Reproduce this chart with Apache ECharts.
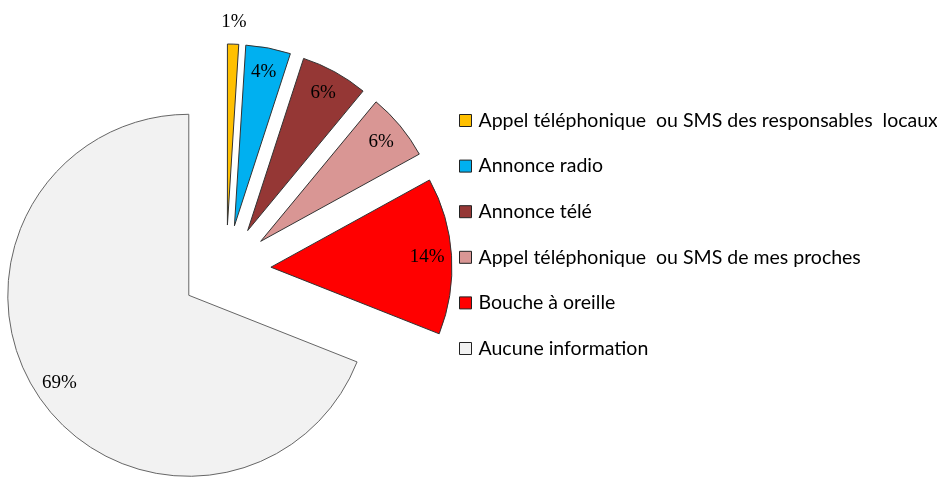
<!DOCTYPE html>
<html>
<head>
<meta charset="utf-8">
<script src="https://cdn.jsdelivr.net/npm/echarts@6/dist/echarts.min.js"></script>
<style>
html,body{margin:0;padding:0;background:#fff;}
#chart{width:937px;height:482px;}
</style>
</head>
<body>
<div id="chart"></div>
<script>
// Data
const categories = [
  "Appel téléphonique  ou SMS des responsables  locaux",
  "Annonce radio",
  "Annonce télé",
  "Appel téléphonique  ou SMS de mes proches",
  "Bouche à oreille",
  "Aucune information"
];
const values = [1, 4, 6, 6, 14, 69];
const colors = ["#FFC000", "#00B0F0", "#953735", "#D99694", "#FF0000", "#F2F2F2"];
const borderColors = ["#333333", "#333333", "#333333", "#333333", "#333333", "#666666"];

const center = [226, 270];
const R = 181;
const offset = 45;
const labelFont = {fontFamily: "Liberation Serif", fontSize: 19, color: "#000"};

function mainData() {
  return categories.map((c, i) => ({
    name: c, value: values[i], selected: true,
    itemStyle: {color: colors[i], borderColor: borderColors[i], borderWidth: 1}
  }));
}
function ghostData(showIdx) {
  return categories.map((c, i) => ({
    name: c, value: values[i], selected: true,
    itemStyle: {color: "rgba(0,0,0,0)", borderWidth: 0},
    label: {show: showIdx(i)}
  }));
}
const fmt = p => p.value + "%";

const chart = echarts.init(document.getElementById("chart"), null, {renderer: "canvas"});
chart.setOption({
  animation: false,
  backgroundColor: "#fff",
  legend: {
    orient: "vertical",
    left: 459,
    top: 110.5,
    padding: 0,
    itemWidth: 12,
    itemHeight: 12,
    itemGap: 25.6,
    icon: "rect",
    data: categories,
    selectedMode: false,
    itemStyle: {borderColor: "#222", borderWidth: 1},
    textStyle: {fontFamily: "Lato", fontSize: 19.5, color: "#000", lineHeight: 20, padding: [0, 0, 0, 2]}
  },
  series: [
    {
      type: "pie",
      center: center,
      radius: [0, R],
      startAngle: 90,
      clockwise: true,
      selectedMode: "multiple",
      selectedOffset: offset,
      silent: true,
      emphasis: {disabled: true},
      label: {show: false},
      labelLine: {show: false},
      data: mainData()
    },
    {
      type: "pie",
      center: center,
      radius: [R - 55, R],
      startAngle: 90,
      clockwise: true,
      selectedMode: "multiple",
      selectedOffset: offset,
      silent: true,
      emphasis: {disabled: true},
      label: Object.assign({show: true, position: "inside", formatter: fmt}, labelFont),
      labelLine: {show: false},
      data: ghostData(i => i !== 0)
    },
    {
      type: "pie",
      center: center,
      radius: [R + 6, R + 32],
      startAngle: 90,
      clockwise: true,
      selectedMode: "multiple",
      selectedOffset: offset,
      silent: true,
      emphasis: {disabled: true},
      label: Object.assign({show: true, position: "inside", formatter: fmt}, labelFont),
      labelLine: {show: false},
      data: ghostData(i => i === 0)
    }
  ]
});
</script>
</body>
</html>
